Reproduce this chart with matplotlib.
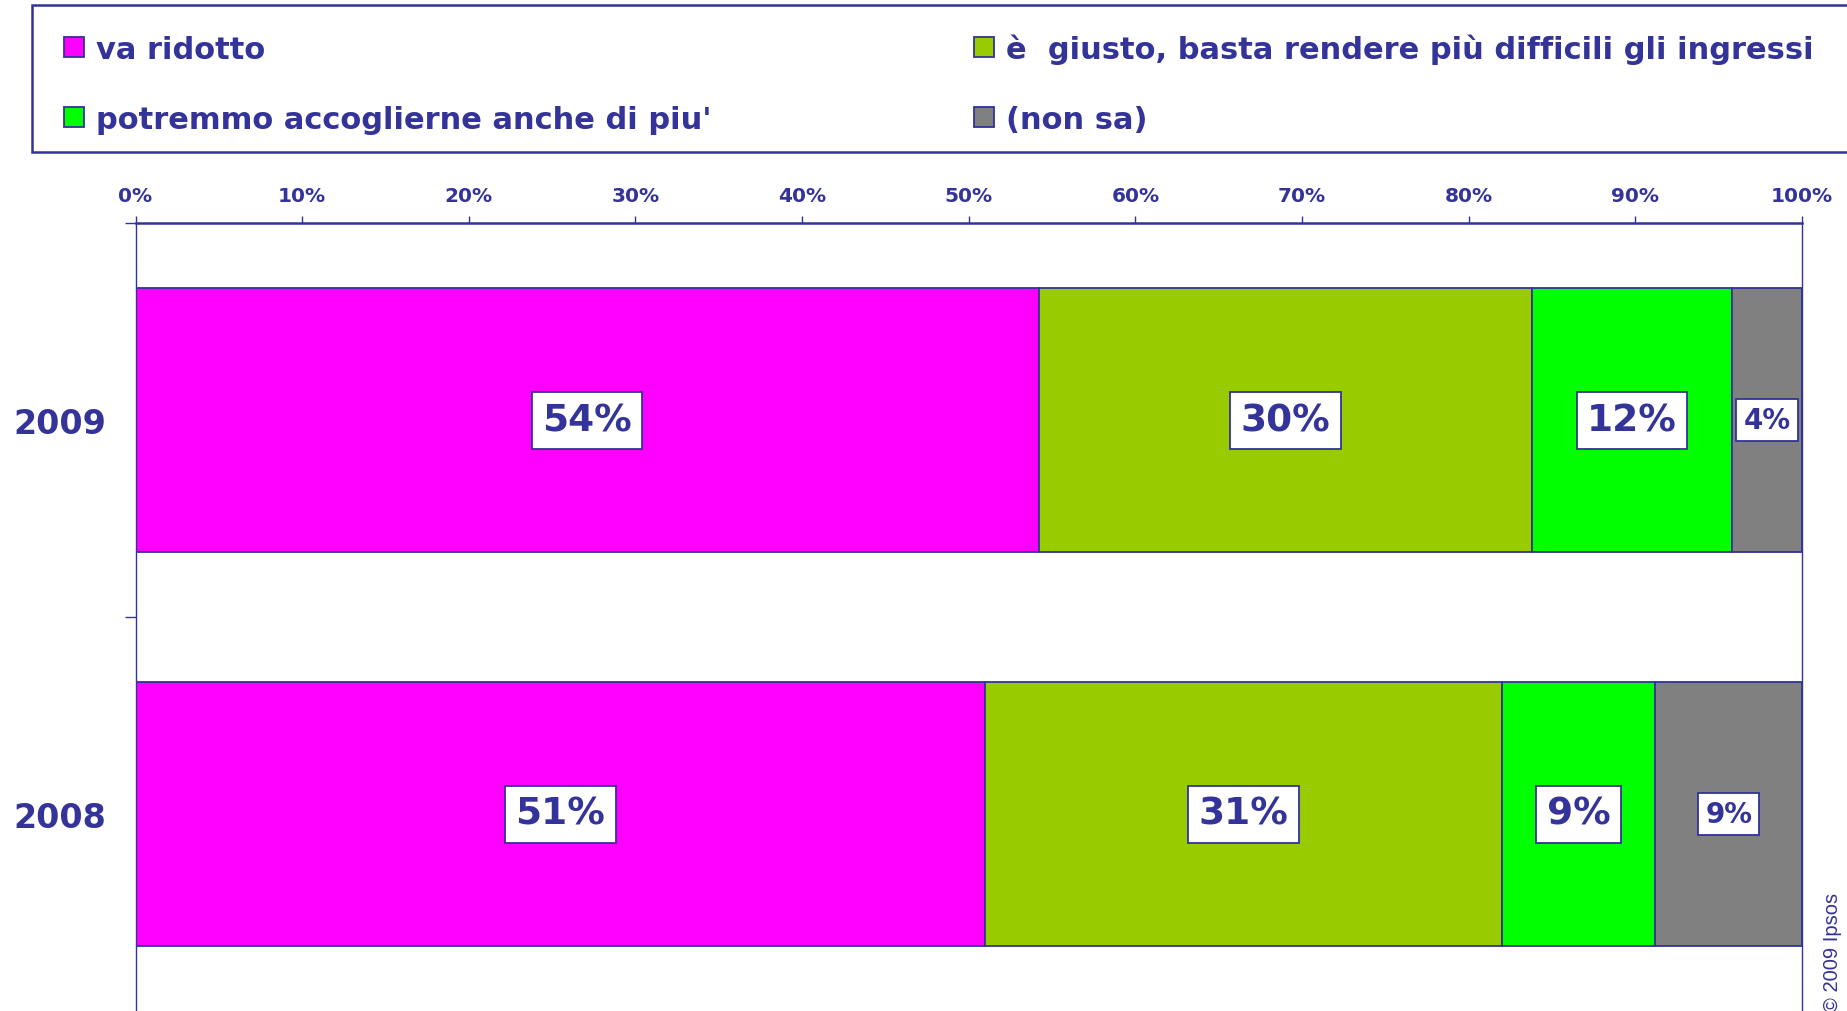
import numpy as np
import matplotlib
matplotlib.use("Agg")
import matplotlib.pyplot as plt
from matplotlib.patches import Rectangle

# dati del grafico (percentuali)
years = ["2008", "2009"]
series = ["va ridotto",
          "è  giusto, basta rendere più difficili gli ingressi",
          "potremmo accoglierne anche di piu'",
          "(non sa)"]
val_2008 = [51.0, 31.0, 9.2, 8.8]
val_2009 = [54.2, 29.6, 12.0, 4.2]
colors = ["#FF00FF", "#99CC00", "#00FF00", "#808080"]
xticks = [0, 10, 20, 30, 40, 50, 60, 70, 80, 90, 100]

blu = "#333399"
W, H = 1847, 1012

fig = plt.figure(figsize=(W / 100, H / 100), dpi=100)
ax = fig.add_axes([135.5 / W, 0, (1802 - 135.5) / W, 1 - 224 / H])

data = np.array([val_2008, val_2009])
ypos = np.arange(len(years))
left = np.zeros(len(years))
bars = []
for i, name in enumerate(series):
    b = ax.barh(ypos, data[:, i], left=left, height=0.67, color=colors[i],
                edgecolor=blu, linewidth=1.3, label=name)
    bars.append(b)
    for j in range(len(years)):
        v = data[j, i]
        small = (i == 3)
        ax.text(left[j] + v / 2, ypos[j], f"{v:.0f}%", ha="center", va="center",
                fontsize=20 if small else 27, fontweight="bold", color=blu,
                bbox=dict(boxstyle="square,pad=%s" % (0.25 if small else 0.28),
                          facecolor="white", edgecolor=blu, linewidth=1.3))
    left = left + data[:, i]

ax.set_xlim(0, 100)
ax.set_ylim(-0.5, 1.5)

# asse x in alto
ax.xaxis.tick_top()
ax.set_xticks(xticks)
ax.set_xticklabels([f"{t}%" for t in xticks], fontsize=14.5, fontweight="bold", color=blu)
ax.tick_params(axis="x", which="major", direction="out", length=5, width=1, color=blu, pad=8)

# asse y: tacche tra le barre, anni come etichette minori
ax.set_yticks([0.5, 1.5])
ax.set_yticklabels([])
ax.tick_params(axis="y", which="major", direction="out", length=8, width=1, color=blu)
ax.set_yticks(ypos, minor=True)
ax.set_yticklabels(years, minor=True, fontsize=24, fontweight="bold", color=blu)
ax.tick_params(axis="y", which="minor", length=0, pad=21)

for s in ["left", "right"]:
    ax.spines[s].set_color(blu)
    ax.spines[s].set_linewidth(1.0)
ax.spines["top"].set_color(blu)
ax.spines["top"].set_linewidth(1.8)
ax.spines["bottom"].set_visible(False)

# riquadro della legenda
fig.patches.append(Rectangle((32 / W, 1 - 153 / H), (1852 - 32) / W, (153 - 6) / H,
                             transform=fig.transFigure, facecolor="white",
                             edgecolor=blu, linewidth=1.8, zorder=0))

# legenda: due colonne
order = [0, 2, 1, 3]
leg = fig.legend([bars[k] for k in order], [series[k] for k in order],
                 ncol=2, mode="expand", loc="upper left",
                 bbox_to_anchor=(32 / W, 1 - 153 / H, (1846 - 32) / W, (153 - 2) / H),
                 borderaxespad=0, borderpad=1.05, labelspacing=1.35,
                 handlelength=0.65, handleheight=0.65, handletextpad=0.4,
                 prop=dict(weight="bold", size=22), labelcolor=blu,
                 frameon=False)

fig.text(1833 / W, 1 - 893 / H, "© 2009 Ipsos", rotation=90, ha="center", va="top",
         fontsize=14.5, family="Liberation Sans", color=blu)

fig.savefig("out.png", dpi=100)
